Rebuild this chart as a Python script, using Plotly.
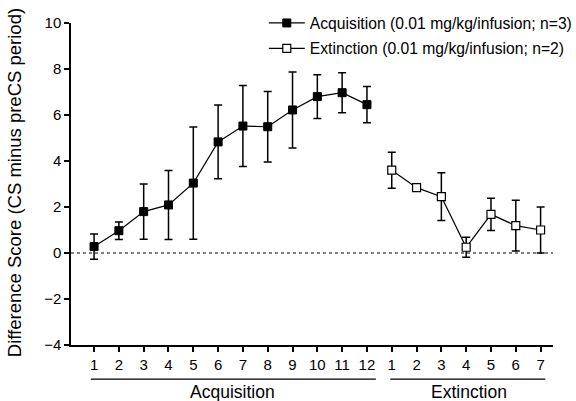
import plotly.graph_objects as go

acq_sessions = list(range(1, 13))
acq_mean = [0.28, 0.97, 1.8, 2.09, 3.04, 4.83, 5.52, 5.49, 6.22, 6.8, 6.97, 6.45]
acq_err = [0.55, 0.38, 1.2, 1.5, 2.44, 1.6, 1.76, 1.53, 1.65, 0.95, 0.87, 0.79]

ext_sessions = list(range(1, 8))
ext_mean = [3.6, 2.84, 2.45, 0.25, 1.68, 1.19, 1.0]
ext_err = [0.78, 0.0, 1.04, 0.43, 0.7, 1.1, 1.0]

tick_labels = [str(s) for s in acq_sessions] + [str(s) for s in ext_sessions]
acq_x = list(range(1, len(acq_sessions) + 1))
ext_x = list(range(len(acq_sessions) + 1, len(acq_sessions) + len(ext_sessions) + 1))

FONT = "Liberation Sans, Arial, Helvetica, sans-serif"

fig = go.Figure()
fig.add_trace(go.Scatter(
    x=acq_x, y=acq_mean, mode="lines+markers",
    name="Acquisition (0.01 mg/kg/infusion; n=3)", legendgroup="a",
    line=dict(color="black", width=1.2),
    marker=dict(symbol="square", size=8, color="black", line=dict(color="black", width=1)),
    error_y=dict(type="data", array=acq_err, visible=True, color="black", thickness=1.5, width=4),
))
fig.add_trace(go.Scatter(
    x=ext_x, y=ext_mean, mode="lines+markers",
    name="Extinction (0.01 mg/kg/infusion; n=2)", legendgroup="b",
    line=dict(color="black", width=1.2),
    marker=dict(symbol="square", size=8, color="white", line=dict(color="black", width=1.2)),
    error_y=dict(type="data", array=ext_err, visible=True, color="black", thickness=1.5, width=4),
))

# zero reference line
fig.add_shape(type="line", xref="paper", yref="y", x0=0, x1=1, y0=0, y1=0,
              line=dict(color="black", width=1, dash="dot"))

# group underline bars and labels
fig.add_shape(type="line", xref="x", yref="paper", x0=0.87, x1=12.36, y0=-0.106, y1=-0.106,
              line=dict(color="black", width=1.2))
fig.add_shape(type="line", xref="x", yref="paper", x0=12.94, x1=19.19, y0=-0.106, y1=-0.106,
              line=dict(color="black", width=1.2))
fig.add_annotation(x=6.6, y=-0.108, xref="x", yref="paper", text="Acquisition",
                   showarrow=False, yanchor="top", font=dict(size=17.5, color="black", family=FONT))
fig.add_annotation(x=16.1, y=-0.108, xref="x", yref="paper", text="Extinction",
                   showarrow=False, yanchor="top", font=dict(size=17.5, color="black", family=FONT))

# y-axis title
fig.add_annotation(x=-0.118, y=0.503, xref="paper", yref="paper",
                   text="Difference Score (CS minus preCS period)", textangle=-90,
                   showarrow=False, xanchor="center", yanchor="middle",
                   font=dict(size=18.5, color="black", family=FONT))

fig.update_layout(
    width=576, height=401,
    margin=dict(l=71, r=23, t=23, b=56, autoexpand=False),
    plot_bgcolor="white", paper_bgcolor="white",
    font=dict(family=FONT, color="black", size=15),
    showlegend=True,
    legend=dict(x=0.40, y=1.052, xanchor="left", yanchor="top",
                bgcolor="rgba(0,0,0,0)", font=dict(size=15.7, family=FONT),
                traceorder="grouped", tracegroupgap=2, itemwidth=36),
    xaxis=dict(range=[0.07, 19.5], tickmode="array", tickvals=acq_x + ext_x, ticktext=tick_labels,
               showgrid=False, zeroline=False, showline=True, linecolor="black", linewidth=1.5,
               ticks="outside", ticklen=5, tickwidth=1.5, tickcolor="black",
               tickfont=dict(size=15)),
    yaxis=dict(range=[-4, 10], tickmode="array", tickvals=[-4, -2, 0, 2, 4, 6, 8, 10],
               showgrid=False, zeroline=False, showline=True, linecolor="black", linewidth=1.5,
               ticks="outside", ticklen=5, tickwidth=1.5, tickcolor="black",
               tickfont=dict(size=15)),
)

fig.write_html("out.html")
